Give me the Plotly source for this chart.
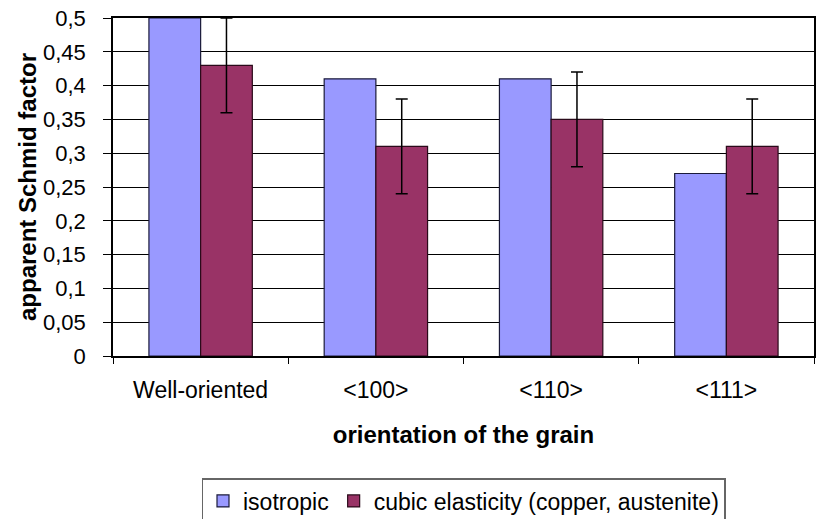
import plotly.graph_objects as go

categories = ["Well-oriented", "<100>", "<110>", "<111>"]
isotropic = [0.5, 0.41, 0.41, 0.27]
cubic = [0.43, 0.31, 0.35, 0.31]
cubic_err = [0.07, 0.07, 0.07, 0.07]
y_ticks = [0, 0.05, 0.1, 0.15, 0.2, 0.25, 0.3, 0.35, 0.4, 0.45, 0.5]
y_ticktext = ["0", "0,05", "0,1", "0,15", "0,2", "0,25", "0,3", "0,35", "0,4", "0,45", "0,5"]

FONT = "Liberation Sans, Arial, sans-serif"

fig = go.Figure()
fig.add_trace(go.Bar(
    name="isotropic", x=categories, y=isotropic,
    marker=dict(color="#9999FF", line=dict(color="#1a1a3a", width=1.2)),
))
fig.add_trace(go.Bar(
    name="cubic elasticity (copper, austenite)", x=categories, y=cubic,
    marker=dict(color="#993366", line=dict(color="#2a0a1a", width=1.2)),
    error_y=dict(type="data", array=cubic_err, visible=True, color="#000000",
                 thickness=1.5, width=6),
))

fig.update_layout(
    width=816, height=519, autosize=False,
    margin=dict(l=113, r=2, t=18, b=163),
    paper_bgcolor="white", plot_bgcolor="white",
    barmode="group", bargap=0.41, bargroupgap=0,
    font=dict(family=FONT, size=22, color="#000000"),
    showlegend=True,
    legend=dict(
        orientation="h", x=0.5, xanchor="center",
        yref="container", y=1 - 478 / 519, yanchor="top",
        bordercolor="#666666", borderwidth=1.5,
        font=dict(family=FONT, size=23, color="#000000"),
        itemwidth=30, tracegroupgap=0,
    ),
)

fig.update_xaxes(
    automargin=False,
    showline=True, linecolor="#000000", linewidth=1.5, mirror=True,
    ticks="outside", tickson="boundaries", ticklen=6, tickcolor="#000000",
    tickfont=dict(family=FONT, size=23), ticklabelstandoff=13,
    title=dict(text="<b>orientation of the grain</b>", font=dict(family=FONT, size=24), standoff=24),
    showgrid=False,
)
fig.update_yaxes(
    automargin=False,
    range=[0, 0.5], tickvals=y_ticks, ticktext=y_ticktext,
    showline=True, linecolor="#000000", linewidth=1.5, mirror=True,
    ticks="outside", ticklen=8, tickcolor="#000000",
    tickfont=dict(family=FONT, size=22), ticklabelstandoff=13,
    showgrid=True, gridcolor="#000000", gridwidth=1.2,
    zeroline=False,
    title=dict(text="<b>apparent Schmid factor</b>", font=dict(family=FONT, size=24), standoff=0),
)

fig.write_html(
    "out.html",
    config={"displayModeBar": False},
    post_script=(
        "document.body.style.margin='0';document.body.style.padding='0';"
        "document.body.style.overflow='hidden';"
        "Plotly.relayout('{plot_id}', {width: 816, height: 519});"
    ),
)
